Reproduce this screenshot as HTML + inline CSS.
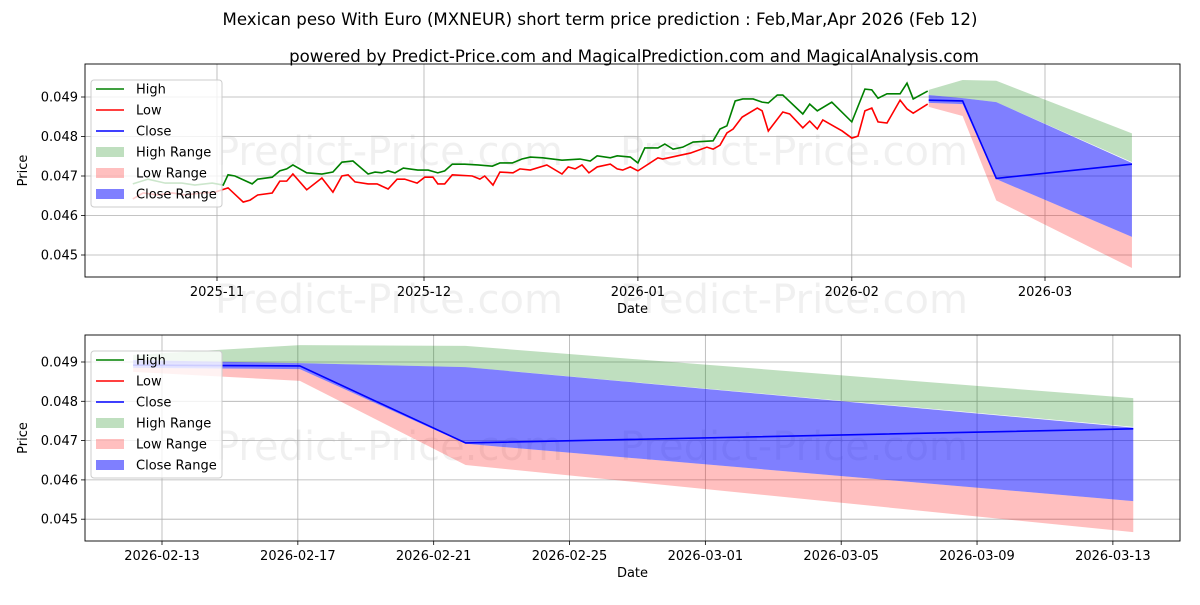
<!DOCTYPE html>
<html><head><meta charset="utf-8"><style>
body{margin:0;background:#fff;width:1200px;height:600px;overflow:hidden}
svg{font-family:"DejaVu Sans","Liberation Sans",sans-serif}
</style></head><body>
<svg id="c" width="1200" height="600" xmlns="http://www.w3.org/2000/svg"></svg>
<script>
// Days counted from 2025-11-01
const highDays=[-12.2,-10,-7.5,-5.1,-3.2,-0.7,0.9,1.6,2.6,5.1,5.9,8,9.1,10.1,11,13,15.2,16.8,18.1,19.7,21.9,22.9,23.9,24.8,25.8,27,29.1,30.6,32,33,34.1,35.9,37.8,39.9,41,42.8,44.2,45.4,47.2,50,52.6,54.1,55.1,57,58,59.9,61,62,63.9,64.9,66.1,67.5,69,71.9,72.9,73.9,75.1,76.2,77.7,79,79.9,81.2,82,84.9,85.9,87,89.1,92,93.9,94.9,95.8,97.1,99,100,100.9,103];
const highVals=[46.80,46.92,46.82,46.82,46.77,46.82,46.77,47.03,47.00,46.80,46.92,46.97,47.13,47.18,47.28,47.08,47.05,47.10,47.35,47.38,47.05,47.10,47.08,47.13,47.08,47.20,47.15,47.15,47.08,47.13,47.30,47.30,47.28,47.25,47.33,47.33,47.43,47.48,47.46,47.40,47.43,47.38,47.51,47.46,47.51,47.48,47.33,47.71,47.71,47.81,47.68,47.73,47.86,47.89,48.19,48.27,48.90,48.95,48.95,48.87,48.85,49.05,49.05,48.57,48.82,48.65,48.87,48.37,49.20,49.18,48.97,49.08,49.08,49.35,48.95,49.15];
const lowDays=[-12.2,-10.7,-8.6,-6.5,-4.6,-2.2,-0.3,1.6,3.8,4.8,5.9,8,9.1,10.1,11,13,15.2,16.8,18.1,19,20,21.9,23.2,24.8,26.1,27.2,29,30.1,31.3,32,33,34.1,37,38.1,38.8,40,41,42.9,43.9,45.4,47.8,50,50.9,51.9,52.9,53.9,55.1,57,58,58.8,59.9,61,63.9,64.6,68.6,71,71.9,72.9,73.9,74.8,76.1,78.3,79,79.9,82,83,84.9,85.9,87,87.8,90.6,92,92.9,93.9,94.9,95.8,97.1,99,100,100.9,103];
const lowVals=[46.42,46.57,46.52,46.57,46.52,46.57,46.59,46.70,46.34,46.39,46.52,46.57,46.87,46.87,47.05,46.65,46.95,46.59,47.00,47.03,46.85,46.80,46.80,46.67,46.92,46.92,46.82,46.97,46.97,46.80,46.80,47.03,47.00,46.92,47.00,46.77,47.10,47.08,47.18,47.15,47.28,47.05,47.23,47.18,47.28,47.08,47.23,47.30,47.18,47.15,47.23,47.13,47.46,47.43,47.58,47.73,47.68,47.78,48.09,48.19,48.49,48.72,48.65,48.14,48.62,48.57,48.22,48.39,48.19,48.42,48.14,47.96,48.01,48.65,48.72,48.37,48.34,48.92,48.70,48.59,48.82];
const predDays=[103.15,108.06,112.94,132.6];
const predClose=[48.92,48.90,46.94,47.30];
const highRangeTop=[49.18,49.43,49.41,48.08];
const highRangeBot=[49.05,48.97,48.87,47.35];
const closeRangeTop=[49.05,48.97,48.87,47.33];
const closeRangeBot=[48.85,48.82,46.92,45.46];
const lowRangeTop=[48.85,48.82,46.92,45.46];
const lowRangeBot=[48.75,48.52,46.38,44.67];
const topXTicks=[[0,'2025-11'],[30,'2025-12'],[61,'2026-01'],[92,'2026-02'],[120,'2026-03']];
const botXTicks=[[104,'2026-02-13'],[108,'2026-02-17'],[112,'2026-02-21'],[116,'2026-02-25'],[120,'2026-03-01'],[124,'2026-03-05'],[128,'2026-03-09'],[132,'2026-03-13']];
const yTicks=[45,46,47,48,49];

const NS='http://www.w3.org/2000/svg';
const svg=document.getElementById('c');
function mk(tag,attrs,parent,text){const e=document.createElementNS(NS,tag);for(const k in attrs)e.setAttribute(k,attrs[k]);if(text!==undefined)e.textContent=text;(parent||svg).appendChild(e);return e;}

function title(x,y,t,name){const e=mk('text',{x:x,y:y,'text-anchor':'middle','font-size':'16.6'},svg,t);

}
title(600,25,'Mexican peso With Euro (MXNEUR) short term price prediction : Feb,Mar,Apr 2026 (Feb 12)','chart-title');
title(634,62,'powered by Predict-Price.com and MagicalPrediction.com and MagicalAnalysis.com','chart-subtitle');

function panel(cfg){
  const g=mk('g',{});
  
  
  const L=85,R=1180,T=cfg.top,B=cfg.bottom;
  const xs=d=>cfg.x0+(d-cfg.d0)*cfg.pxd;
  const ys=v=>cfg.y49-(v-49)*cfg.pxv;
  const clip='clip'+cfg.name;
  const cp=mk('clipPath',{id:clip},g);mk('rect',{x:L,y:T,width:R-L,height:B-T},cp);
  cfg.wm.forEach(w=>{const t=mk('text',{x:w[0],y:w[1],'font-size':'40',fill:'#000','fill-opacity':'0.06'},g,'Predict-Price.com');
  
  });
  cfg.xt.forEach(t=>{const x=xs(t[0]);mk('line',{x1:x,x2:x,y1:T,y2:B,stroke:'#b0b0b0','stroke-width':0.8},g);
    mk('line',{x1:x,x2:x,y1:B,y2:B+4,stroke:'#000','stroke-width':0.8},g);
    const tl=mk('text',{x:x,y:B+19,'text-anchor':'middle','font-size':'13'},g,t[1]);
    
    });
  yTicks.forEach(v=>{const y=ys(v);mk('line',{x1:L,x2:R,y1:y,y2:y,stroke:'#b0b0b0','stroke-width':0.8},g);
    mk('line',{x1:L-4,x2:L,y1:y,y2:y,stroke:'#000','stroke-width':0.8},g);
    const tl=mk('text',{x:L-7,y:y+4.5,'text-anchor':'end','font-size':'13'},g,(v/1000).toFixed(3));
    
    });
  const pg=mk('g',{'clip-path':'url(#'+clip+')'},g);
  function band(top,bot,col,op,name){
    let d='M'+predDays.map((dd,i)=>xs(dd)+','+ys(top[i])).join('L');
    d+='L'+predDays.map((dd,i)=>[xs(dd),ys(bot[i])]).reverse().map(p=>p.join(',')).join('L')+'Z';
    const p=mk('path',{d:d,fill:col,'fill-opacity':op},pg);
    
    }
  band(highRangeTop,highRangeBot,'#008000',0.25,'high-range-band');
  band(lowRangeTop,lowRangeBot,'#ff0000',0.25,'low-range-band');
  band(closeRangeTop,closeRangeBot,'#0000ff',0.5,'close-range-band');
  function line(ds,vs,col,name){const p=mk('polyline',{points:ds.map((d,i)=>xs(d)+','+ys(vs[i])).join(' '),fill:'none',stroke:col,'stroke-width':1.6},pg);
    
    }
  if(cfg.history){
    line(highDays,highVals,'#008000','high-line');
    line(lowDays,lowVals,'#ff0000','low-line');
  }
  line(predDays,predClose,'#0000ff','close-line');
  mk('rect',{x:L,y:T,width:R-L,height:B-T,fill:'none',stroke:'#000','stroke-width':0.9},g);
  const xl=mk('text',{x:(L+R)/2,y:B+36,'text-anchor':'middle','font-size':'13'},g,'Date');
  
  
  const yl=mk('text',{x:0,y:0,'text-anchor':'middle','font-size':'13',transform:'translate(27,'+((T+B)/2)+') rotate(-90)'},g,'Price');
  
  
  const lg=mk('g',{},g);
  
  
  const lx=91,ly=T+16;
  mk('rect',{x:lx,y:ly,width:131,height:127,rx:3,fill:'#fff','fill-opacity':0.8,stroke:'#ccc'},lg);
  const items=[['High','line','#008000'],['Low','line','#ff0000'],['Close','line','#0000ff'],['High Range','box','rgba(0,128,0,0.25)'],['Low Range','box','rgba(255,0,0,0.25)'],['Close Range','box','rgba(0,0,255,0.5)']];
  items.forEach((it,i)=>{const cy=ly+9+i*21;
    if(it[1]==='line')mk('line',{x1:lx+5,x2:lx+33,y1:cy,y2:cy,stroke:it[2],'stroke-width':1.6},lg);
    else mk('rect',{x:lx+5,y:cy-5,width:28,height:10,fill:it[2]},lg);
    const t=mk('text',{x:lx+45,y:cy+4.5,'font-size':'13'},lg,it[0]);
    
    });
}
panel({name:'top-panel',top:64,bottom:277,x0:217,d0:0,pxd:6.9,y49:97,pxv:39.5,xt:topXTicks,history:true,wm:[[215,165],[620,165],[215,313],[620,313]]});
panel({name:'bottom-panel',top:335,bottom:541,x0:162,d0:104,pxd:33.96,y49:362,pxv:39.3,xt:botXTicks,history:false,wm:[[215,460],[620,460]]});
</script>
</body></html>
